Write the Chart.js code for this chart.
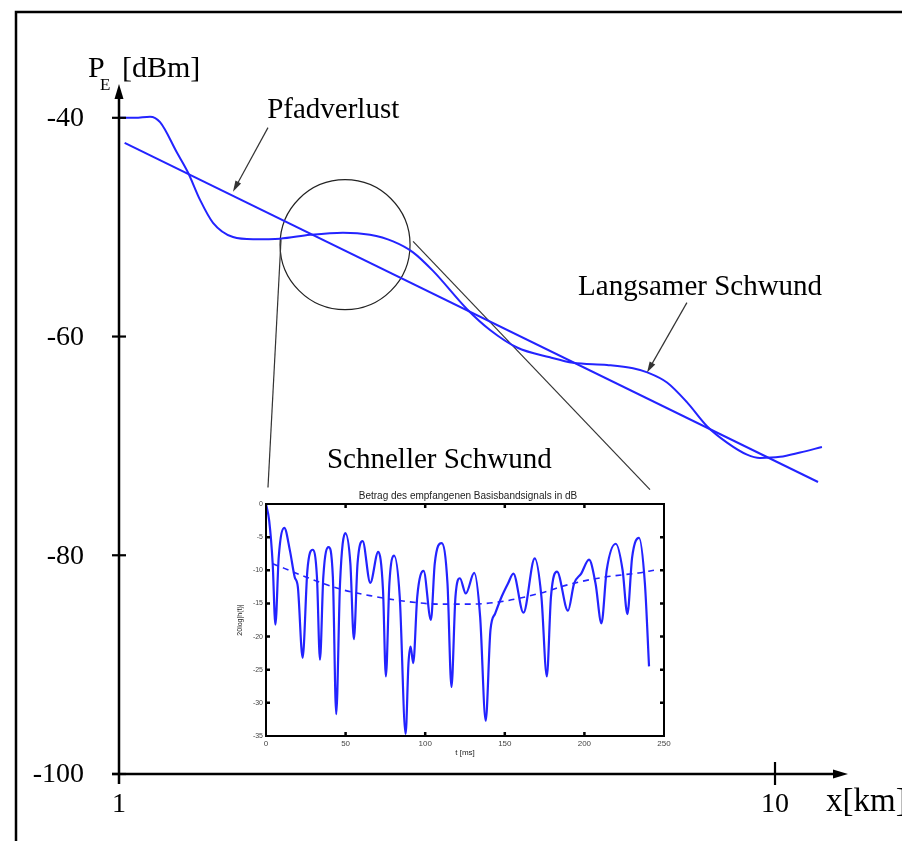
<!DOCTYPE html>
<html>
<head>
<meta charset="utf-8">
<script src="https://cdn.jsdelivr.net/npm/chart.js@4.4.1/dist/chart.umd.min.js"></script>
<style>
  html, body { margin: 0; padding: 0; background: #fff; }
  #wrap { position: relative; width: 902px; height: 841px; overflow: hidden; }
  #mainChart { position: absolute; left: 0; top: 0; }
  #insetChart { position: absolute; left: 236px; top: 484px; filter: blur(0.4px); }
</style>
</head>
<body>
<div id="wrap">
  <canvas id="mainChart" width="902" height="841"></canvas>
  <canvas id="insetChart" width="440" height="290"></canvas>
</div>
<script>
// Empfangsleistung über Entfernung (x logarithmisch, km)
const distKm = [1.0, 1.058, 1.115, 1.155, 1.226, 1.274, 1.329, 1.391, 1.492, 1.601, 1.760, 1.955, 2.195, 2.413, 2.617, 2.807, 3.011, 3.393, 3.678, 4.044, 4.539, 4.921, 5.545, 6.074, 6.403, 6.845, 7.340, 7.876, 8.450, 9.065, 9.487, 10.18, 10.92, 11.79];
const slowFadingDbm = [-40.0, -40.0, -39.9, -40.4, -43.2, -45.0, -47.5, -49.6, -50.9, -51.1, -51.05, -50.7, -50.5, -50.7, -51.3, -52.3, -54.0, -57.5, -59.4, -61.0, -61.9, -62.4, -62.6, -62.9, -63.3, -64.2, -66.0, -68.2, -69.7, -70.8, -71.1, -71.0, -70.6, -70.1];

// Pfadverlust als Gerade
const pathLossKm = [1.02, 11.63];
const pathLossDbm = [-42.3, -73.3];

// Lupe und Verbindungslinien zum Ausschnitt
const zoomCenterKm = [2.211];
const zoomCenterDbm = [-51.6];
const linkLeftKm = [1.766, 1.687];
const linkLeftDbm = [-51.1, -73.8];
const linkRightKm = [2.807, 6.448];
const linkRightDbm = [-51.3, -74.0];

const yTicks = [-40, -60, -80, -100];
const xTicks = [1, 10];

// Ausschnitt: Betrag des Basisbandsignals in dB über t [ms]
const tMs = [0, 2, 4.2, 5.9, 8, 11.5, 15, 18, 20, 23, 26, 29.3, 32, 33.9, 36, 39.3, 42, 44.1, 46.5, 49.8, 53, 55.2, 57.5, 60.7, 65.5, 70.5, 73.5, 75.3, 77.5, 80.5, 84, 87.7, 89.5, 90.8, 92.5, 95, 99, 103.6, 106, 110.3, 114, 116.5, 119, 121.8, 125.5, 130.8, 134.5, 138, 141, 144, 148, 152, 155.4, 161.7, 168.8, 173, 176.4, 179, 182.8, 189.7, 193.5, 198, 202.9, 207, 210.7, 214, 219.7, 224, 227, 230, 234.3, 238, 240.6];
const fastDb = [0, -2.5, -9, -18.2, -8, -3.6, -7, -11, -12.5, -23.2, -10, -6.9, -11, -23.5, -11, -6.5, -11, -31.7, -12, -4.4, -9, -20.4, -9, -5.6, -11.9, -7.2, -13, -26, -12, -7.8, -14, -34.7, -24, -21.5, -24, -14, -10.1, -17.5, -9, -5.9, -12, -27.6, -14, -11.2, -13.5, -10.4, -17, -32.7, -19, -16.5, -14, -12, -10.5, -16.4, -8.2, -14, -26, -14, -10.2, -16.1, -12, -10.5, -8.4, -12, -18, -10, -6.0, -10, -16.6, -8, -5.1, -12, -24.5];
const tMeanMs = [4.2, 25, 46, 67, 88, 109, 130, 151, 171.5, 192.5, 213.4, 234, 243.7];
const meanDb = [-9, -11, -12.8, -13.9, -14.7, -15.1, -15.1, -14.6, -13.5, -12, -11, -10.4, -10.0];

const insetXTicks = [0, 50, 100, 150, 200, 250];
const insetYTicks = [0, -5, -10, -15, -20, -25, -30, -35];

const blue = '#2323ff';
const serif = "'Liberation Serif', 'Times New Roman', serif";
const toXY = (xs, ys) => xs.map((x, i) => ({ x, y: ys[i] }));

// Beschriftungen mit Pfeil, Ankerpunkte in Datenkoordinaten
const notes = [
  { text: 'Pfadverlust', at: [1.682, -40.0], from: [1.687, -40.9], to: [1.492, -46.76] },
  { text: 'Langsamer Schwund', at: [5.01, -56.16], from: [7.34, -56.9], to: [6.381, -63.29] },
  { text: 'Schneller Schwund', at: [2.075, -72.05] }
];

function drawArrow(ctx, x1, y1, x2, y2, len, half) {
  const a = Math.atan2(y2 - y1, x2 - x1);
  ctx.beginPath();
  ctx.moveTo(x1, y1);
  ctx.lineTo(x2 - Math.cos(a) * len * 0.7, y2 - Math.sin(a) * len * 0.7);
  ctx.stroke();
  ctx.beginPath();
  ctx.moveTo(x2, y2);
  ctx.lineTo(x2 - len * Math.cos(a) + half * Math.sin(a), y2 - len * Math.sin(a) - half * Math.cos(a));
  ctx.lineTo(x2 - len * Math.cos(a) - half * Math.sin(a), y2 - len * Math.sin(a) + half * Math.cos(a));
  ctx.closePath();
  ctx.fill();
}

const mainDecor = {
  id: 'mainDecor',
  beforeDraw(chart) {
    const ctx = chart.ctx;
    ctx.save();
    ctx.fillStyle = '#fff';
    ctx.fillRect(0, 0, chart.width, chart.height);
    // Rahmen oben und links
    ctx.strokeStyle = '#000';
    ctx.lineWidth = 2.5;
    ctx.beginPath();
    ctx.moveTo(16, chart.height);
    ctx.lineTo(16, 12);
    ctx.lineTo(chart.width, 12);
    ctx.stroke();
    ctx.restore();
  },
  afterDraw(chart) {
    const { ctx, chartArea } = chart;
    const xs = chart.scales.x, ys = chart.scales.y;
    const x0 = xs.getPixelForValue(xTicks[0]);
    const y0 = ys.getPixelForValue(yTicks[yTicks.length - 1]);
    ctx.save();
    ctx.strokeStyle = '#000';
    ctx.fillStyle = '#000';
    ctx.lineWidth = 2.5;

    // Achsen mit Pfeilspitzen
    drawArrow(ctx, x0, y0 + 10, x0, chartArea.top - 1, 15, 4.5);
    drawArrow(ctx, x0 - 7, y0, chartArea.right, y0, 15, 4.5);

    // Teilstriche
    ctx.lineWidth = 2.2;
    yTicks.forEach(v => {
      const py = ys.getPixelForValue(v);
      ctx.beginPath();
      ctx.moveTo(x0 - 7, py);
      ctx.lineTo(x0 + 7, py);
      ctx.stroke();
    });
    xTicks.slice(1).forEach(v => {
      const px = xs.getPixelForValue(v);
      ctx.beginPath();
      ctx.moveTo(px, y0 - 12);
      ctx.lineTo(px, y0 + 11);
      ctx.stroke();
    });

    // Achsenbeschriftung
    ctx.font = `28px ${serif}`;
    ctx.textAlign = 'right';
    ctx.textBaseline = 'middle';
    yTicks.forEach(v => ctx.fillText(String(v), x0 - 35, ys.getPixelForValue(v) + 1));
    ctx.textAlign = 'center';
    xTicks.forEach(v => ctx.fillText(String(v), xs.getPixelForValue(v), y0 + 31));

    ctx.textAlign = 'left';
    ctx.textBaseline = 'alphabetic';
    ctx.font = `30px ${serif}`;
    ctx.fillText('P', x0 - 31, 77);
    ctx.font = `17px ${serif}`;
    ctx.fillText('E', x0 - 19, 90);
    ctx.font = `30px ${serif}`;
    ctx.fillText('[dBm]', x0 + 3, 77);
    ctx.font = `33px ${serif}`;
    ctx.textBaseline = 'middle';
    ctx.fillText('x[km]', chartArea.right - 22, y0 + 28);

    // Beschriftungen der Kurven
    ctx.font = `29px ${serif}`;
    ctx.textBaseline = 'alphabetic';
    ctx.strokeStyle = '#333';
    ctx.lineWidth = 1.2;
    notes.forEach(n => {
      ctx.fillStyle = '#000';
      ctx.fillText(n.text, xs.getPixelForValue(n.at[0]), ys.getPixelForValue(n.at[1]));
      if (n.from) {
        ctx.fillStyle = '#333';
        drawArrow(ctx,
          xs.getPixelForValue(n.from[0]), ys.getPixelForValue(n.from[1]),
          xs.getPixelForValue(n.to[0]), ys.getPixelForValue(n.to[1]), 11, 3.2);
      }
    });
    ctx.restore();
  }
};

new Chart(document.getElementById('mainChart'), {
  type: 'line',
  data: {
    datasets: [
      { data: toXY(distKm, slowFadingDbm), borderColor: blue, borderWidth: 2, pointRadius: 0, cubicInterpolationMode: 'monotone', fill: false },
      { data: toXY(pathLossKm, pathLossDbm), borderColor: blue, borderWidth: 2, pointRadius: 0, tension: 0, fill: false },
      { data: toXY(linkLeftKm, linkLeftDbm), borderColor: '#333', borderWidth: 1.2, pointRadius: 0, tension: 0 },
      { data: toXY(linkRightKm, linkRightDbm), borderColor: '#333', borderWidth: 1.2, pointRadius: 0, tension: 0 },
      {
        data: toXY(zoomCenterKm, zoomCenterDbm), showLine: false,
        pointRadius: 65, pointHoverRadius: 65, pointStyle: 'circle',
        pointBackgroundColor: 'rgba(0,0,0,0)', pointBorderColor: '#222', pointBorderWidth: 1.2
      }
    ]
  },
  options: {
    responsive: false,
    animation: false,
    events: [],
    layout: { autoPadding: false, padding: { left: 119, right: 54, top: 85, bottom: 67 } },
    plugins: { legend: { display: false }, tooltip: { enabled: false } },
    scales: {
      x: { type: 'logarithmic', min: 1, max: 12.92, display: false },
      y: { type: 'linear', min: -100, max: -37, display: false }
    }
  },
  plugins: [mainDecor]
});

// Kasten, Innenstriche und Titel des Ausschnitts
const insetDecor = {
  id: 'insetDecor',
  afterDraw(chart) {
    const { ctx, chartArea: a } = chart;
    const xs = chart.scales.x, ys = chart.scales.y;
    ctx.save();
    ctx.strokeStyle = '#000';
    ctx.lineWidth = 2;
    ctx.strokeRect(a.left, a.top, a.right - a.left, a.bottom - a.top);
    ctx.lineWidth = 2.5;
    insetXTicks.slice(1, -1).forEach(v => {
      const px = xs.getPixelForValue(v);
      ctx.beginPath();
      ctx.moveTo(px, a.bottom); ctx.lineTo(px, a.bottom - 4);
      ctx.moveTo(px, a.top); ctx.lineTo(px, a.top + 4);
      ctx.stroke();
    });
    insetYTicks.slice(1, -1).forEach(v => {
      const py = ys.getPixelForValue(v);
      ctx.beginPath();
      ctx.moveTo(a.left, py); ctx.lineTo(a.left + 4, py);
      ctx.moveTo(a.right, py); ctx.lineTo(a.right - 4, py);
      ctx.stroke();
    });
    ctx.fillStyle = '#222';
    ctx.font = "10px 'Liberation Sans', Arial, sans-serif";
    ctx.textAlign = 'center';
    ctx.textBaseline = 'bottom';
    ctx.fillText('Betrag des empfangenen Basisbandsignals in dB', (a.left + a.right) / 2 + 3, a.top - 3);
    ctx.restore();
  }
};

const smallFont = { family: "'Liberation Sans', Arial, sans-serif", size: 8 };

new Chart(document.getElementById('insetChart'), {
  type: 'line',
  data: {
    datasets: [
      { data: toXY(tMs, fastDb), borderColor: blue, borderWidth: 2.2, pointRadius: 0, cubicInterpolationMode: 'monotone', fill: false },
      { data: toXY(tMeanMs, meanDb), borderColor: blue, borderWidth: 1.6, borderDash: [6, 5], pointRadius: 0, cubicInterpolationMode: 'monotone', fill: false }
    ]
  },
  options: {
    responsive: false,
    animation: false,
    events: [],
    layout: { padding: { left: 0, right: 12, top: 20, bottom: 16 } },
    plugins: { legend: { display: false }, tooltip: { enabled: false } },
    scales: {
      x: {
        type: 'linear', min: 0, max: 250,
        afterBuildTicks: s => { s.ticks = insetXTicks.map(v => ({ value: v })); },
        afterFit: s => { s.height = 22; },
        grid: { display: false, drawTicks: false },
        border: { display: false },
        ticks: { font: smallFont, color: '#444', padding: 3, maxRotation: 0 },
        title: { display: true, text: 't [ms]', font: smallFont, color: '#222', padding: 0 }
      },
      y: {
        type: 'linear', min: -35, max: 0,
        afterBuildTicks: s => { s.ticks = insetYTicks.map(v => ({ value: v })); },
        afterFit: s => { s.width = 30; },
        grid: { display: false, drawTicks: false },
        border: { display: false },
        ticks: { font: { ...smallFont, size: 7 }, color: '#444', padding: 3 },
        title: { display: true, text: '20log|h(t)|', font: { ...smallFont, size: 7 }, color: '#222', padding: 0 }
      }
    }
  },
  plugins: [insetDecor]
});
</script>
</body>
</html>
